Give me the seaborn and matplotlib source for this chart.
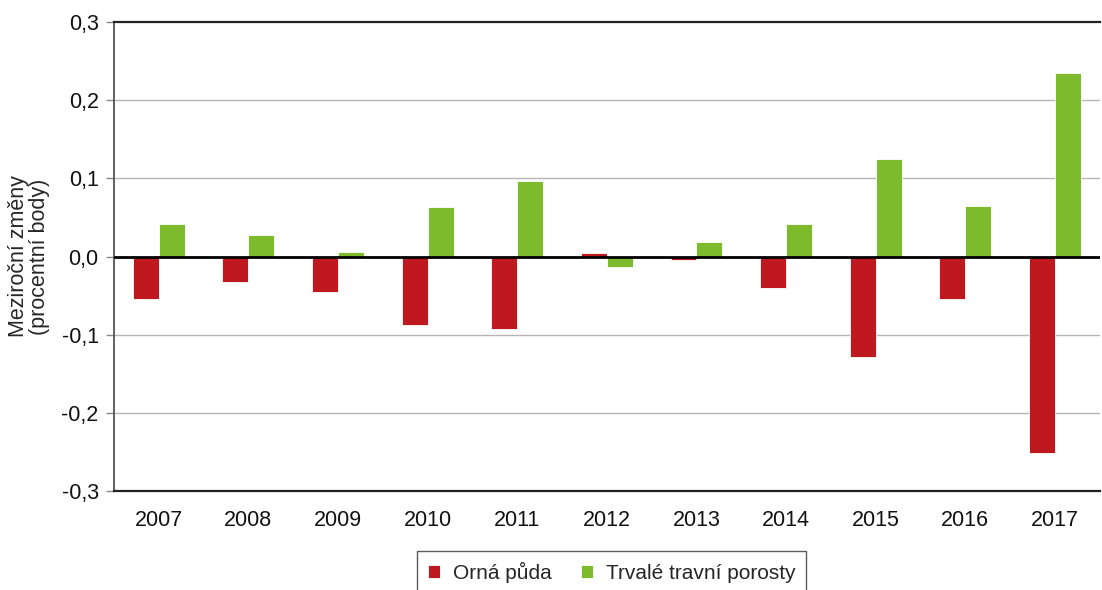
import matplotlib
matplotlib.use("Agg")
import matplotlib.pyplot as plt
import seaborn as sns
import pandas as pd
from matplotlib.ticker import FuncFormatter

# data
years = ["2007", "2008", "2009", "2010", "2011", "2012",
         "2013", "2014", "2015", "2016", "2017"]
orna_puda = [-0.054, -0.033, -0.045, -0.087, -0.093, 0.005,
             -0.004, -0.040, -0.128, -0.054, -0.252]
trvale_porosty = [0.041, 0.027, 0.006, 0.063, 0.096, -0.013,
                  0.018, 0.041, 0.125, 0.064, 0.235]
series_names = ["Orná půda", "Trvalé travní porosty"]
colors = ["#C0181F", "#7DBB2C"]

df = pd.DataFrame({
    "rok": years * 2,
    "hodnota": orna_puda + trvale_porosty,
    "serie": [series_names[0]] * len(years) + [series_names[1]] * len(years),
})

sns.set_style("white")
plt.rcParams["font.family"] = ["Liberation Sans", "DejaVu Sans"]
plt.rcParams["font.size"] = 15.5

fig = plt.figure(figsize=(11.02, 5.9), dpi=100)
ax = fig.add_axes([0.1034, 0.1678, 0.8946, 0.7949])

sns.barplot(data=df, x="rok", y="hodnota", hue="serie", order=years,
            hue_order=series_names, palette=colors, width=0.58, gap=0,
            edgecolor="white", linewidth=0.6, saturation=1, ax=ax)

ax.set_ylim(-0.3, 0.3)
ax.set_xlim(-0.5, len(years) - 0.5)
ax.set_yticks([-0.3, -0.2, -0.1, 0.0, 0.1, 0.2, 0.3])
ax.yaxis.set_major_formatter(FuncFormatter(lambda v, p: f"{v:.1f}".replace(".", ",")))
ax.set_xlabel("")
ax.set_ylabel("Meziroční změny\n(procentní body)", fontsize=15.5, labelpad=8,
              linespacing=1.0)

# grid lines
for v in [-0.2, -0.1, 0.1, 0.2]:
    ax.axhline(v, color="#b5b5b5", linewidth=1, zorder=0)
ax.axhline(0, color="black", linewidth=2, zorder=3)
ax.set_axisbelow(True)

for side in ["top", "bottom"]:
    ax.spines[side].set_color("#222222")
    ax.spines[side].set_linewidth(1.6)
ax.spines["left"].set_color("#555555")
ax.spines["left"].set_linewidth(1.3)
ax.spines["right"].set_visible(False)

ax.tick_params(axis="y", left=True, length=6, width=1, color="#888888",
               labelsize=15.5, pad=5, labelcolor="#111111")
ax.tick_params(axis="x", bottom=False, labelsize=15.5, pad=10, labelcolor="#111111")

handles, labels = ax.get_legend_handles_labels()
ax.legend_.remove()
leg = fig.legend(handles, labels, loc="upper center",
                 bbox_to_anchor=(0.555, 0.066), ncol=2, frameon=True,
                 fancybox=False, edgecolor="#333333", fontsize=15,
                 handlelength=0.6, handleheight=0.6, handletextpad=0.6,
                 columnspacing=1.4, borderpad=0.5, borderaxespad=0)
leg.get_frame().set_linewidth(1.0)

fig.savefig("out.png", dpi=100)
